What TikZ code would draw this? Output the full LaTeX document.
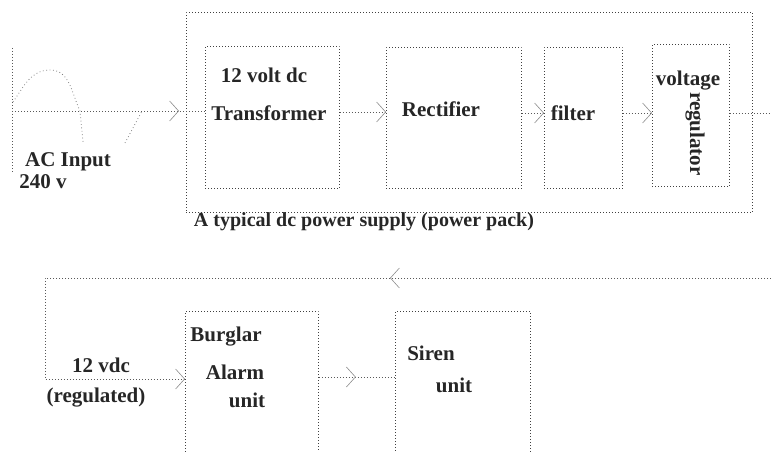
\documentclass[tikz,border=0pt]{standalone}
\usepackage{fontspec}
\setmainfont{Liberation Serif}
\usetikzlibrary{arrows.meta,decorations.markings}
\tikzset{
  blockbox/.style={draw=black!75, line width=0.8pt, dash pattern=on 0.8pt off 2.2pt, inner sep=0pt, anchor=north west},
  txt/.style={font=\fontsize{21}{24}\selectfont\bfseries, text=black!85, inner sep=0pt},
  link/.style={draw=black!65, line width=0.8pt, dash pattern=on 0.8pt off 2.2pt},
  wave/.style={draw=black!50, line width=0.8pt, dash pattern=on 0.8pt off 2.6pt},
  tipbarb/.tip={Straight Barb[length=9pt,width=20pt,line width=0.6pt,color=black!45]},
  barb/.style={-tipbarb},
  midbarb/.style={postaction={decorate}, decoration={markings, mark=at position #1 with {\arrow{tipbarb}}}}
}
\begin{document}
\begin{tikzpicture}[x=1pt, y=-1pt]
    \clip (0,0) rectangle (771,452);

    % Blocks
    \node[blockbox, minimum width=566pt, minimum height=200pt] (psu) at (186,12) {};
    \node[blockbox, minimum width=134pt, minimum height=142pt] (xfmr) at (205,46) {};
    \node[blockbox, minimum width=135pt, minimum height=141pt] (rect) at (386,47) {};
    \node[blockbox, minimum width=78pt, minimum height=141pt] (filt) at (544,47) {};
    \node[blockbox, minimum width=77pt, minimum height=142pt] (reg) at (652,44) {};
    \node[blockbox, minimum width=133pt, minimum height=200pt] (alarm) at (185,311) {};
    \node[blockbox, minimum width=135pt, minimum height=200pt] (siren) at (395,311) {};

    % Labels
    \node[txt] (xfmrtop) at (264,75) {12 volt dc};
    \node[txt] (xfmrtxt) at (269,113) {Transformer};
    \node[txt] (recttxt) at (441,109) {Rectifier};
    \node[txt] (filttxt) at (573,113) {filter};
    \node[txt] (regtop) at (688,81) {voltage};
    \node[txt, rotate=-90] (regtxt) at (695,134) {regulator};
    \node[txt] (acin) at (68,162) {AC Input};
    \node[txt] (acvolt) at (43,182) {240 v};
    \node[txt, font=\fontsize{20}{23}\selectfont\bfseries] (psutxt) at (364,222) {A typical dc power supply (power pack)};
    \node[txt] (alarmA) at (226,337) {Burglar};
    \node[txt] (alarmB) at (235,372) {Alarm};
    \node[txt] (alarmC) at (247,400) {unit};
    \node[txt] (dcA) at (101,365) {12 vdc};
    \node[txt] (dcB) at (96,398) {(regulated)};
    \node[txt] (sirenA) at (431,353) {Siren};
    \node[txt] (sirenB) at (454,385) {unit};

    % AC input
    \coordinate (acTop) at (12,48);
    \coordinate (acBot) at (12,173);
    \coordinate (acL) at (12,111);
    \draw[link] (acTop) -- (acBot);
    \draw[wave] (13,102) to[out=55,in=180] (50,70) to[out=0,in=115] (80,111) -- (83,142);
    \draw[wave] (125,143) -- (142,111);
    \draw[link, midbarb=167pt] (acL) -- (acL -| xfmr.west);

    % Chain
    \coordinate (busA) at (0,112);
    \coordinate (busB) at (0,113);
    \draw[link, barb] (xfmr.east |- busA) -- (rect.west |- busA);
    \draw[link, barb] (rect.east |- busB) -- (filt.west |- busB);
    \draw[link, barb] (filt.east |- busB) -- (reg.west |- busB);
    \coordinate (outR) at (771,113);
    \draw[link] (reg.east |- busB) -- (outR);

    % Return to alarm
    \coordinate (retR) at (771,278);
    \coordinate (retL) at (45,278);
    \coordinate (retD) at (45,379);
    \draw[link, barb, midbarb=381pt] (retR) -- (retL) -- (retD) -- (alarm.west |- retD);
    \coordinate (busC) at (0,377);
    \draw[link, midbarb=37pt] (alarm.east |- busC) -- (siren.west |- busC);
  \end{tikzpicture}
\end{document}
